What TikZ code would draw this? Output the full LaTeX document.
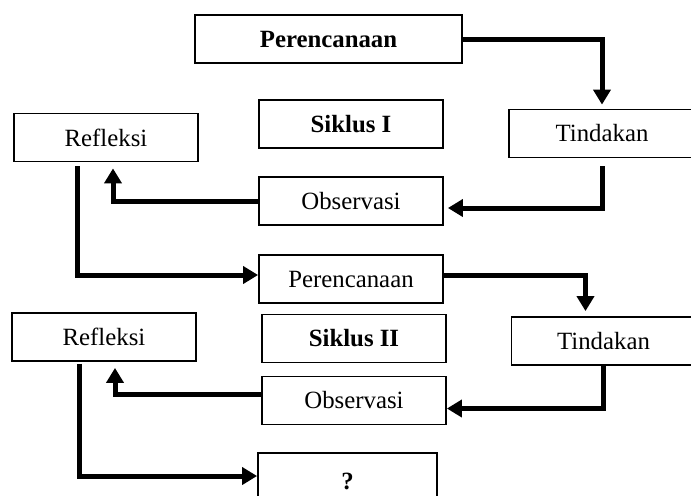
\documentclass[tikz,border=0pt]{standalone}
\usepackage{fontspec}
\setmainfont{Liberation Serif}
\usetikzlibrary{arrows.meta, positioning}
\tikzset{
  stage/.style={draw, line width=0.9pt, minimum width=92pt, minimum height=24pt, inner sep=0pt, align=center, font=\fontsize{12.4}{14}\selectfont},
  heading/.style={stage, font=\fontsize{12.4}{14}\selectfont\bfseries},
  myarrow/.style={-{Triangle[length=7.5pt, width=8.5pt]}, line width=2.5pt},
  myline/.style={line width=2.5pt}
}

\begin{document}
\begin{tikzpicture}[x=0.5pt, y=-0.5pt]
  \useasboundingbox (0,0) rectangle (691,495);

  % Siklus I
  \node[heading, minimum width=133.5pt] (per1) at (328.5,39) {Perencanaan};
  \node[heading] (siklus1) at (351,124) {Siklus I};
  \node[stage] (ref1) at (106,137.5) {Refleksi};
  \node[stage, minimum width=93pt] (tin1) at (602,133.5) {Tindakan};
  \node[stage] (obs1) at (351,201) {Observasi};

  % Siklus II
  \node[stage] (per2) at (351,279) {Perencanaan};
  \node[heading] (siklus2) at (354,338.5) {Siklus II};
  \node[stage] (ref2) at (104,337) {Refleksi};
  \node[stage, minimum width=92pt] (tin2) at (603.5,341) {Tindakan};
  \node[stage] (obs2) at (354,400.5) {Observasi};

  % next step
  \node[heading, minimum width=89.5pt, minimum height=28pt] (next) at (347.5,481) {?};

  % loop of Siklus I
  \draw[myarrow, shorten >=2pt] (per1.east) -| (tin1.north);
  \draw[myarrow, shorten <=4pt, shorten >=2pt] (tin1.south) |- ([yshift=-3.5pt]obs1.east);
  \draw[myarrow, shorten >=3pt] (obs1.west) -| ([xshift=3.5pt]ref1.south);

  % Refleksi I to Perencanaan II
  \draw[myarrow, shorten <=2pt] ([xshift=-14.5pt]ref1.south) |- ([yshift=2pt]per2.west);

  % loop of Siklus II
  \draw[myarrow, shorten >=2.5pt] ([yshift=2pt]per2.east) -| ([xshift=-9pt]tin2.north);
  \draw[myarrow] (tin2.south) |- ([yshift=-4pt]obs2.east);
  \draw[myarrow, shorten >=3pt] ([yshift=3pt]obs2.west) -| ([xshift=5.5pt]ref2.south);

  % Refleksi II to next
  \draw[myarrow, shorten <=1pt] ([xshift=-12.5pt]ref2.south) |- ([yshift=2.5pt]next.west);
\end{tikzpicture}
\end{document}
